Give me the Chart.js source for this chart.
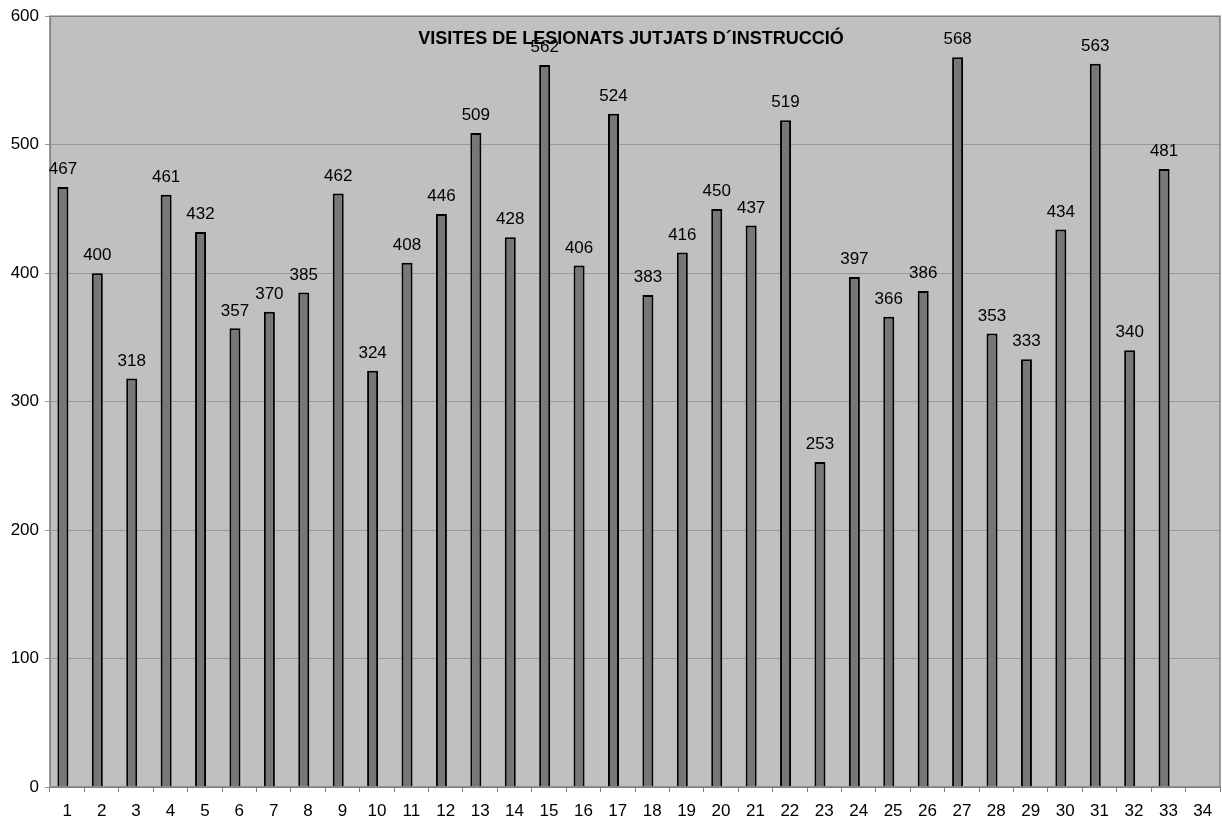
<!DOCTYPE html>
<html><head><meta charset="utf-8">
<script src="https://cdn.jsdelivr.net/npm/chart.js@4"></script>
<style>html,body{margin:0;padding:0;background:#fff}#wrap{width:1222px;height:822px}</style>
</head><body><div id="wrap"><canvas id="c" width="1222" height="822"></canvas></div>
<script>
const categories = ["1","2","3","4","5","6","7","8","9","10","11","12","13","14","15","16","17","18","19","20","21","22","23","24","25","26","27","28","29","30","31","32","33","34"];
const visites = [467,400,318,461,432,357,370,385,462,324,408,446,509,428,562,406,524,383,416,450,437,519,253,397,366,386,568,353,333,434,563,340,481,null];
const emptySeries = categories.map(()=>null);
const yTicks = [0,100,200,300,400,500,600];
const titleText = "VISITES DE LESIONATS JUTJATS D\u00B4INSTRUCCI\u00D3";
const FONT = "'Liberation Sans', Arial, sans-serif";

const bgPlugin = {
  id:'bg',
  beforeDraw(chart){
    const {ctx, chartArea:a} = chart;
    ctx.save(); ctx.fillStyle='#c0c0c0';
    ctx.fillRect(a.left,a.top,a.right-a.left,a.bottom-a.top); ctx.restore();
  },
  afterDatasetsDraw(chart){
    const {ctx, chartArea:a} = chart;
    ctx.save();
    ctx.strokeStyle='#808080'; ctx.lineWidth=1.5;
    ctx.strokeRect(a.left,a.top,a.right-a.left,a.bottom-a.top);
    ctx.font = "bold 18px " + FONT; ctx.fillStyle='#000';
    ctx.textAlign='center'; ctx.textBaseline='middle';
    ctx.fillText(titleText, 631, 39);
    ctx.font = "17px " + FONT; ctx.fillStyle='#000';
    ctx.textBaseline='bottom';
    const meta = chart.getDatasetMeta(0);
    meta.data.forEach((bar,i)=>{
      const v = visites[i]; if(v==null) return;
      ctx.fillText(String(v), bar.x, bar.y - 9);
    });
    ctx.restore();
  }
};

new Chart(document.getElementById('c'), {
  type:'bar',
  data:{labels:categories, datasets:[
    {data:visites, backgroundColor:'#777777', borderColor:'#000', borderWidth:2, barPercentage:1.28, categoryPercentage:0.5},
    {data:emptySeries, backgroundColor:'#777777', borderColor:'#000', borderWidth:2, barPercentage:1.28, categoryPercentage:0.5}
  ]},
  options:{
    responsive:false, animation:false,
    layout:{padding:{left:0,right:2,top:16,bottom:0}},
    plugins:{legend:{display:false}, tooltip:{enabled:false}, title:{display:false}},
    scales:{
      x:{
        offset:true,
        grid:{offset:true, display:true, drawOnChartArea:false, drawTicks:true, tickLength:5, color:'#808080'},
        border:{display:true, color:'#808080'},
        ticks:{color:'#000', font:{size:17, family:FONT}, maxRotation:0, autoSkip:false, padding:9},
        afterFit(s){ s.height = 35; }
      },
      y:{
        min:0, max:600,
        afterBuildTicks(s){ s.ticks = yTicks.map(v=>({value:v})); },
        grid:{color:'#999999', lineWidth:1, tickLength:5, drawTicks:true},
        border:{display:true, color:'#808080'},
        ticks:{color:'#000', font:{size:17, family:FONT}, padding:6},
        afterFit(s){ s.width = 50; }
      }
    }
  },
  plugins:[bgPlugin]
});
</script></body></html>
